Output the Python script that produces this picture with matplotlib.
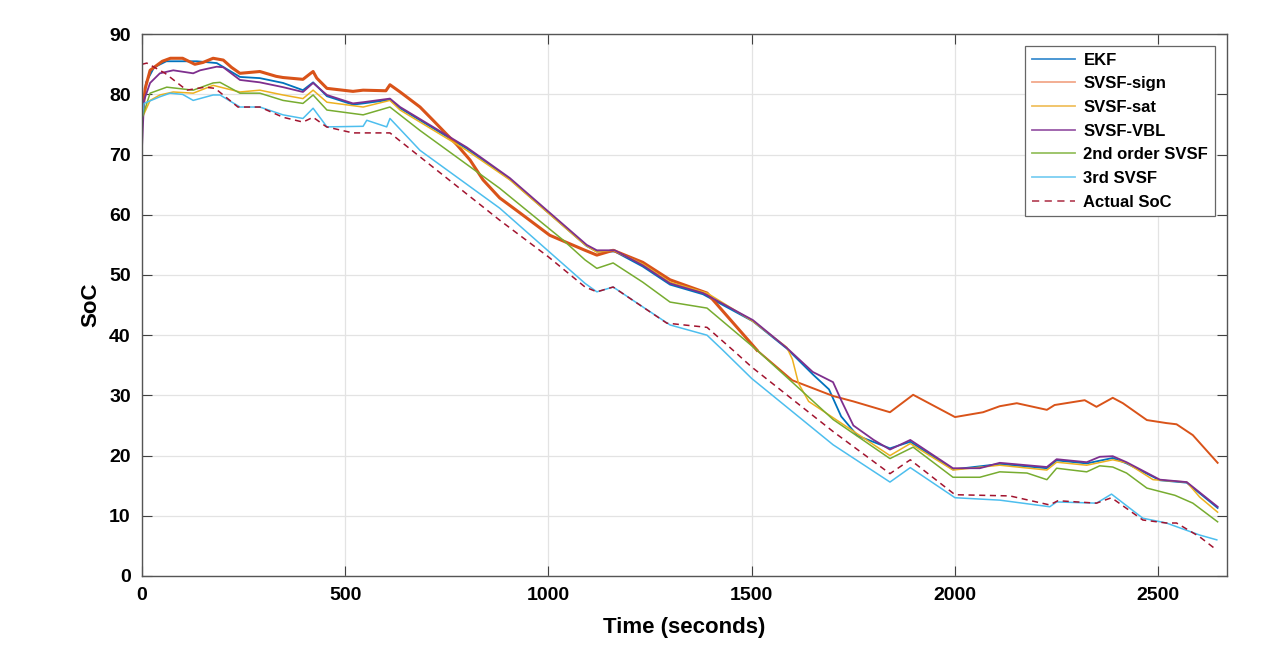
import numpy as np
import matplotlib
matplotlib.use("Agg")
import matplotlib.pyplot as plt
from matplotlib.lines import Line2D

# series (time in s, SoC in %)
t_ekf = [0, 10, 30, 60, 100, 135, 184, 241, 290, 347, 396, 421, 455, 519, 544, 610, 635, 799, 905,
         1094, 1119, 1163, 1232, 1299, 1380, 1503, 1586, 1650, 1690, 1720, 1760, 1840, 1890, 1995,
         2110, 2226, 2250, 2324, 2388, 2422, 2504, 2570, 2646]
soc_ekf = [76, 82, 84.5, 85.5, 85.5, 85.5, 85.2, 82.9, 82.7, 81.9, 80.7, 82, 79.7, 78.3, 78.5, 79.1,
           77.7, 71.0, 65.9, 54.8, 53.9, 53.9, 51.4, 48.4, 46.8, 42.3, 37.8, 33.5, 31, 26.5, 23.3,
           21.2, 22.3, 17.7, 18.6, 17.9, 19.2, 18.7, 19.6, 18.7, 15.9, 15.5, 11.3]

t_sign = [0, 8, 20, 50, 70, 100, 130, 150, 175, 200, 220, 241, 290, 330, 347, 396, 415, 421, 430,
          455, 519, 544, 600, 610, 635, 684, 716, 775, 807, 839, 880, 930, 1003, 1090, 1119, 1159,
          1232, 1299, 1390, 1513, 1600, 1700, 1750, 1840, 1897, 2000, 2069, 2110, 2152, 2226, 2245,
          2319, 2348, 2388, 2413, 2472, 2520, 2545, 2585, 2646]
soc_sign = [76, 81, 84, 85.5, 86, 86, 85, 85.3, 86, 85.7, 84.5, 83.5, 83.8, 83, 82.8, 82.5, 83.5,
            83.8, 82.7, 81, 80.5, 80.7, 80.6, 81.6, 80.4, 77.9, 75.7, 71.6, 69.1, 65.8, 62.8, 60.3,
            56.6, 54.1, 53.3, 54.1, 52.1, 49.2, 47, 37.5, 32.5, 29.9, 29, 27.2, 30.1, 26.4, 27.2,
            28.2, 28.7, 27.6, 28.4, 29.2, 28.1, 29.6, 28.7, 25.9, 25.4, 25.2, 23.4, 18.8]

t_sat = [0, 20, 44, 77, 126, 175, 241, 290, 347, 396, 421, 455, 544, 610, 635, 799, 905, 1090, 1119,
         1159, 1232, 1299, 1390, 1503, 1586, 1600, 1615, 1640, 1700, 1840, 1890, 1995, 2110, 2226,
         2250, 2324, 2388, 2422, 2487, 2570, 2602, 2646]
soc_sat = [76, 79, 79.9, 80.4, 80.2, 81.5, 80.4, 80.7, 79.9, 79.3, 80.7, 78.7, 77.9, 79, 77.4, 70.7,
           65.8, 55, 53.8, 54.1, 51.8, 48.8, 47, 42.3, 38, 36, 32, 29, 26.3, 20, 22, 17.6, 18.4,
           17.6, 18.9, 18.4, 19.3, 18.8, 16, 15.6, 13.1, 10.6]

t_vbl = [0, 5, 20, 44, 77, 126, 143, 184, 200, 241, 290, 347, 396, 421, 455, 519, 544, 610, 635, 799,
         905, 1094, 1119, 1163, 1232, 1299, 1380, 1503, 1586, 1650, 1700, 1720, 1750, 1800, 1840,
         1890, 1995, 2061, 2110, 2226, 2250, 2324, 2356, 2388, 2422, 2504, 2570, 2646]
soc_vbl = [71, 79, 81.9, 83.5, 84, 83.5, 84, 84.6, 84.5, 82.4, 82, 81.2, 80.4, 81.9, 79.9, 78.5,
           78.7, 79.3, 77.9, 71.2, 66.1, 55, 54.1, 54.1, 51.6, 48.6, 47, 42.5, 37.9, 33.9, 32.2,
           29.2, 25, 22.6, 21, 22.6, 17.9, 17.9, 18.8, 18.1, 19.4, 18.9, 19.8, 19.9, 18.9, 16, 15.6,
           11.5]

t_2nd = [0, 20, 61, 126, 175, 192, 241, 290, 347, 396, 421, 455, 544, 610, 684, 880, 1036, 1090, 1119,
         1159, 1232, 1299, 1390, 1513, 1619, 1700, 1840, 1897, 1995, 2061, 2110, 2177, 2226, 2250,
         2324, 2356, 2388, 2422, 2472, 2541, 2585, 2646]
soc_2nd = [76, 80.2, 81.2, 80.7, 81.9, 82, 80.2, 80.2, 79, 78.5, 79.9, 77.4, 76.6, 77.9, 74, 64.4,
           55.8, 52.5, 51.1, 52, 48.8, 45.5, 44.5, 37.5, 31, 26, 19.5, 21.4, 16.4, 16.4, 17.3, 17.1,
           16, 17.9, 17.3, 18.3, 18.1, 17.1, 14.6, 13.4, 12.1, 9]

t_3rd = [0, 5, 44, 69, 100, 126, 175, 192, 241, 290, 347, 396, 421, 455, 544, 553, 602, 610, 684, 880,
         1090, 1119, 1159, 1232, 1299, 1390, 1429, 1500, 1700, 1840, 1890, 2000, 2110, 2233, 2250,
         2348, 2385, 2462, 2520, 2602, 2644]
soc_3rd = [76, 78.5, 79.6, 80.2, 80, 79, 79.9, 79.9, 77.9, 77.9, 76.6, 76, 77.7, 74.6, 74.7, 75.7,
           74.6, 76, 70.7, 61.1, 48.6, 47.2, 48, 44.7, 41.7, 40, 37.5, 32.8, 21.8, 15.6, 18, 13,
           12.6, 11.5, 12.3, 12.1, 13.6, 9.6, 8.8, 6.8, 6]

t_act = [0, 12, 57, 110, 155, 180, 236, 290, 347, 396, 421, 454, 519, 610, 880, 1000, 1090, 1119, 1159,
         1291, 1390, 1454, 1500, 1700, 1840, 1890, 2000, 2135, 2233, 2253, 2348, 2385, 2462, 2520,
         2545, 2602, 2644]
soc_act = [85, 85.2, 83.5, 80.7, 81.2, 81, 77.9, 77.9, 76.2, 75.4, 76.2, 74.6, 73.6, 73.6, 59.1, 53,
           48.0, 47.2, 48, 42, 41.3, 37.5, 34.7, 24, 17, 19.3, 13.5, 13.3, 11.8, 12.5, 12.1, 13, 9.3,
           8.8, 8.8, 6.5, 4.3]

plt.rcParams['font.family'] = ['Liberation Sans', 'DejaVu Sans']

fig = plt.figure(figsize=(12.79, 6.45), dpi=100)
ax = fig.add_axes([0.111, 0.107, 0.848, 0.840])

ax.plot(t_ekf, soc_ekf, color='#0072BD', lw=1.3)
n = t_sign.index(1513) + 1
ax.plot(t_sign[:n], soc_sign[:n], color='#D95319', lw=2.2, solid_joinstyle='round')
ax.plot(t_sign[n - 1:], soc_sign[n - 1:], color='#D95319', lw=1.4)
ax.plot(t_sat, soc_sat, color='#EDB120', lw=1.1)
ax.plot(t_vbl, soc_vbl, color='#7E2F8E', lw=1.3)
ax.plot(t_2nd, soc_2nd, color='#77AC30', lw=1.1)
ax.plot(t_3rd, soc_3rd, color='#4DBEEE', lw=1.1)
ax.plot(t_act, soc_act, color='#A2142F', lw=1.1, dashes=(4, 3))

ax.set_xlim(0, 2668)
ax.set_ylim(0, 90)
ax.set_xticks(np.arange(0, 2501, 500))
ax.set_yticks(np.arange(0, 91, 10))
ax.grid(True, color='#e3e3e3', lw=0.9)
ax.set_axisbelow(True)
ax.tick_params(direction='in', length=7, width=0.8, top=True, right=True,
               labelsize=14, color='#404040', pad=8)
for lab in ax.get_xticklabels() + ax.get_yticklabels():
    lab.set_fontweight('bold')
for s in ax.spines.values():
    s.set_color('#555555')
    s.set_linewidth(1.0)

ax.set_xlabel('Time (seconds)', fontsize=16, fontweight='bold', labelpad=9)
ax.set_ylabel('SoC', fontsize=16, fontweight='bold', labelpad=6)

handles = [Line2D([], [], color='#3d8fd0', lw=1.3),
           Line2D([], [], color='#f2a88a', lw=1.3),
           Line2D([], [], color='#f0c060', lw=1.3),
           Line2D([], [], color='#9a5aa8', lw=1.3),
           Line2D([], [], color='#96c060', lw=1.3),
           Line2D([], [], color='#7ccff2', lw=1.3),
           Line2D([], [], color='#b84a5e', lw=1.3, dashes=(4, 3))]
labels = ['EKF', 'SVSF-sign', 'SVSF-sat', 'SVSF-VBL', '2nd order SVSF', '3rd SVSF', 'Actual SoC']
leg = ax.legend(handles, labels, loc='upper right', fancybox=False, framealpha=1,
                edgecolor='#666666', prop={'weight': 'bold', 'size': 12},
                handlelength=2.6, labelspacing=0.52, borderpad=0.4, handletextpad=0.5,
                borderaxespad=0.7)
leg.get_frame().set_linewidth(0.9)

fig.savefig('out.png', dpi=100)
